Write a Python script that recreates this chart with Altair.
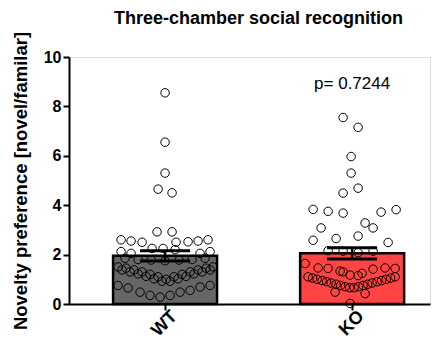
import altair as alt
import pandas as pd

FONT = "Liberation Sans"

groups = ["WT", "KO"]
bar_means = [1.95, 2.05]
bar_sems = [0.21, 0.23]
bar_colors = ["#666666", "#FF4444"]

wt_offsets = [0, 0, 0, -7, 7,
              -8, 7,
              -44, -34, -23, 11, 23, 33, 43,
              -44, -34, -13, -2, 10, 35, 45,
              -40, -27, -14, 0, 14, 27, 40,
              -47, -39, -31, -23, -15, -7, 1, 9, 17, 25, 33, 41, 48,
              -43, -35, -27, -19, -11, -3, 5, 13, 21, 29, 37, 45,
              -47, -37, -25, -15, -5, 5, 15, 25, 35, 45]
wt_values = [8.55, 6.55, 5.3, 4.65, 4.5,
             2.92, 2.92,
             2.6, 2.55, 2.5, 2.5, 2.52, 2.55, 2.6,
             2.12, 2.05, 2.25, 2.25, 2.2, 2.05, 2.12,
             1.85, 1.8, 1.78, 1.75, 1.78, 1.8, 1.85,
             1.5, 1.45, 1.38, 1.3, 1.2, 1.1, 1.0, 1.1, 1.2, 1.3, 1.38, 1.45, 1.5,
             1.38, 1.3, 1.22, 1.12, 1.02, 0.92, 0.92, 1.02, 1.12, 1.22, 1.3, 1.38,
             0.75, 0.65, 0.48, 0.35, 0.28, 0.35, 0.48, 0.55, 0.69, 0.75]

ko_offsets = [-9, 6, -1, -1, -9, 6, -39, -24, -9, 29, 44, -31, 13, 21, -39, -16, 6, 36,
              -24, -9, 6, 21,
              -47, -34, -24, -12, -9, -2, 6, 10, 21, 33, 43,
              -44, -39.5, -35, -30, -25.5, -21, -16, -11.5, -7, -2.5, 2, 6.5, 11, 15.5, 20, 25, 29.5, 34, 38.5, 43,
              -17, 13,
              -2]
ko_values = [7.55, 7.15, 5.97, 5.3, 4.49, 4.69, 3.83, 3.75, 3.68, 3.72, 3.82, 3.08, 3.28, 3.08, 2.58, 2.65, 2.75, 2.49,
             2.16, 2.14, 2.08, 2.14,
             1.64, 1.46, 1.44, 1.33, 1.3, 1.17, 1.15, 1.24, 1.41, 1.46, 1.44,
             1.1, 1.05, 1.0, 0.95, 0.9, 0.85, 0.8, 0.75, 0.7, 0.66, 0.66, 0.7, 0.75, 0.8, 0.85, 0.9, 0.95, 1.0, 1.05, 1.1,
             0.48, 0.42,
             0.02]

pval_text = ["p= 0.7244"]
pval_group = ["KO"]
pval_y = [8.9]

bars_df = pd.DataFrame({"group": groups, "mean": bar_means, "sem": bar_sems})
bars_df["lo"] = bars_df["mean"] - bars_df["sem"]
bars_df["hi"] = bars_df["mean"] + bars_df["sem"]

pts_df = pd.concat([
    pd.DataFrame({"group": "WT", "offset": wt_offsets, "value": wt_values}),
    pd.DataFrame({"group": "KO", "offset": ko_offsets, "value": ko_values}),
], ignore_index=True)

txt_df = pd.DataFrame({"group": pval_group, "y": pval_y, "label": pval_text})

xscale = alt.Scale(domain=groups, paddingInner=0.444, paddingOuter=0.187, align=0.63)
xaxis = alt.Axis(title=None, labelAngle=-45, labelFont=FONT, labelFontSize=18,
                 labelFontWeight="bold", labelColor="black", domainColor="black",
                 domainWidth=2, tickColor="black", tickWidth=2, tickSize=6, labelPadding=-3,
                 labelOffset=3)
yscale = alt.Scale(domain=[0, 10], nice=False)
yaxis = alt.Axis(title="Novelty preference [novel/familar]", values=[0, 2, 4, 6, 8, 10],
                 grid=False, labelFont=FONT, labelFontSize=16, labelFontWeight="bold",
                 labelColor="black", domainColor="black", domainWidth=2, tickColor="black",
                 tickWidth=2, tickSize=6, labelPadding=2, titleFont=FONT, titleFontSize=18.5,
                 titleFontWeight="bold", titleColor="black", titlePadding=13)


def X():
    return alt.X("group:N", scale=xscale, sort=groups, axis=xaxis)


def Y(field):
    return alt.Y(field, scale=yscale, axis=yaxis)


bars = alt.Chart(bars_df).mark_bar(stroke="black", strokeWidth=2.5, width=104).encode(
    x=X(), y=Y("mean:Q"),
    color=alt.Color("group:N", scale=alt.Scale(domain=groups, range=bar_colors), legend=None),
)

points = alt.Chart(pts_df).mark_point(shape="circle", filled=False, color="black",
                                      size=72, strokeWidth=1, opacity=1).encode(
    x=X(),
    xOffset=alt.XOffset("offset:Q", scale=alt.Scale(domain=[-52, 52])),
    y=Y("value:Q"),
)

err = alt.Chart(bars_df).mark_rule(color="black", strokeWidth=2.5).encode(
    x=X(), y=Y("lo:Q"), y2="hi:Q")
cap_lo = alt.Chart(bars_df).mark_tick(color="black", thickness=3, size=50, opacity=1).encode(
    x=X(), y=Y("lo:Q"))
cap_hi = alt.Chart(bars_df).mark_tick(color="black", thickness=3, size=50, opacity=1).encode(
    x=X(), y=Y("hi:Q"))

ptext = alt.Chart(txt_df).mark_text(font=FONT, fontSize=17, color="black").encode(
    x=X(), y=Y("y:Q"), text="label:N")

chart = alt.layer(bars, points, err, cap_lo, cap_hi, ptext).properties(
    width=361, height=247,
    title=alt.TitleParams("Three-chamber social recognition", font=FONT, fontSize=18,
                          fontWeight="bold", color="black", anchor="middle", dx=9, dy=14,
                          baseline="alphabetic", offset=3),
    autosize=alt.AutoSizeParams(type="none"),
    padding={"left": 69, "top": 57, "right": 7, "bottom": 43},
).configure_view(stroke=None).configure(background="white")

chart.save("out.html", embed_options={"renderer": "svg", "actions": False})
